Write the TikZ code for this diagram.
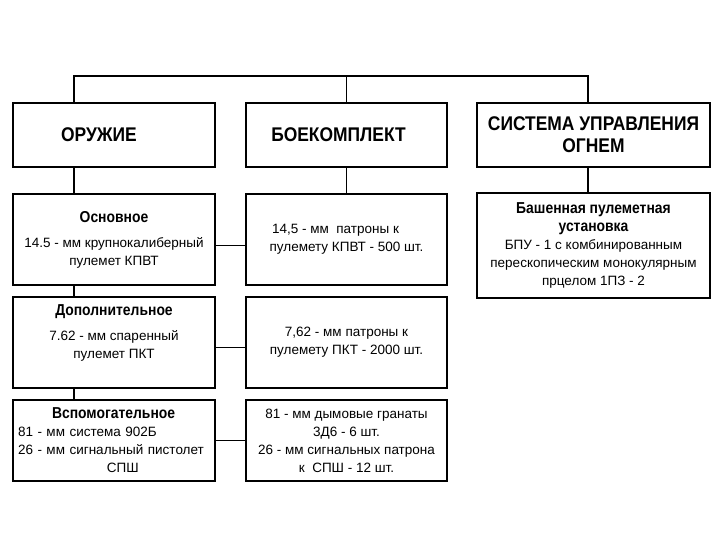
\documentclass[tikz,border=0pt]{standalone}
\usepackage{fontspec}
\setmainfont{Liberation Sans}
\newfontfamily\condfont{Liberation Sans}[FakeStretch=0.88]
\usetikzlibrary{positioning}
\tikzset{
	box/.style  ={rectangle, draw=black, line width=1.5pt, inner sep=0pt, align=center,
		font=\fontsize{13.5}{18}\selectfont},
	head/.style ={box, font=\condfont\bfseries\fontsize{19.8}{22}\selectfont},
	link/.style ={line width=1.5pt},
}
\newcommand{\sub}[1]{{\condfont\bfseries\fontsize{15.8}{18}\selectfont #1}}

\begin{document}
\begin{tikzpicture}[x=1pt, y=-1pt]
	\useasboundingbox (0,0) rectangle (720,540);
	% top level
	\node[head, minimum width=202pt, minimum height=64pt] (weapon) at (114,135) {\hspace*{-30pt}ОРУЖИЕ};
	\node[head, minimum width=201pt, minimum height=64pt] (ammo)   at (346.5,135) {\hspace*{-16pt}БОЕКОМПЛЕКТ};
	\node[head, minimum width=233pt, minimum height=64pt] (fcs)    at (593.5,135) {СИСТЕМА УПРАВЛЕНИЯ\\ОГНЕМ};
	% weapons
	\node[box, minimum width=202pt, minimum height=91pt] (main)  at (114,239.5)
		{\sub{Основное}\\[7pt]14.5 - мм крупнокалиберный\\пулемет КПВТ};
	\node[box, minimum width=202pt, minimum height=91pt] (extra) at (114,342.5)
		{\sub{Дополнительное}\\[7pt]7.62 - мм спаренный\\пулемет ПКТ\\[4pt]};
	\node[box, minimum width=202pt, minimum height=81pt, text width=192pt, align=left] (aux) at (114,440.5)
		{\hspace*{34pt}\sub{Вспомогательное}\\81 - мм система 902Б\\26 - мм сигнальный пистолет\\\hspace*{89pt}СПШ};
	% ammunition
	\node[box, minimum width=201pt, minimum height=91pt] (ammoA) at (346.5,239.5)
		{\hspace*{-22pt}14,5 - мм\ \ патроны к\\пулемету КПВТ - 500 шт.};
	\node[box, minimum width=201pt, minimum height=91pt] (ammoB) at (346.5,342.5)
		{7,62 - мм патроны к\\пулемету ПКТ - 2000 шт.};
	\node[box, minimum width=201pt, minimum height=81pt] (ammoC) at (346.5,440.5)
		{81 - мм дымовые гранаты\\3Д6 - 6 шт.\\26 - мм сигнальных патрона\\к\ \ СПШ - 12 шт.};
	% fire control
	\node[box, minimum width=233pt, minimum height=105pt] (bpu) at (593.5,245.5)
		{\sub{Башенная пулеметная}\\\sub{установка}\\БПУ - 1 с комбинированным\hspace*{34pt}\\перескопическим монокулярным\\прцелом 1ПЗ - 2};
	% connectors
	\coordinate (busL) at (74,76);
	\coordinate (busR) at (588,76);
	\draw[link] (busL |- weapon.north) -- (busL) -- (busR) -- (busR |- fcs.north);
	\draw[link] (ammo.north) -- (ammo.north |- busL);
	\draw[link] (busL |- weapon.south) -- (busL |- main.north);
	\draw[link] (busL |- main.south) -- (busL |- extra.north);
	\draw[link] (busL |- extra.south) -- (busL |- aux.north);
	\draw[link] (ammo.south) -- (ammoA.north);
	\draw[link] (busR |- fcs.south) -- (busR |- bpu.north);
	\draw[link] ([yshift=-6pt]main.east) -- ([yshift=-6pt]ammoA.west);
	\draw[link] ([yshift=-5pt]extra.east) -- ([yshift=-5pt]ammoB.west);
	\draw[link] (aux.east) -- (ammoC.west);
\end{tikzpicture}
\end{document}
